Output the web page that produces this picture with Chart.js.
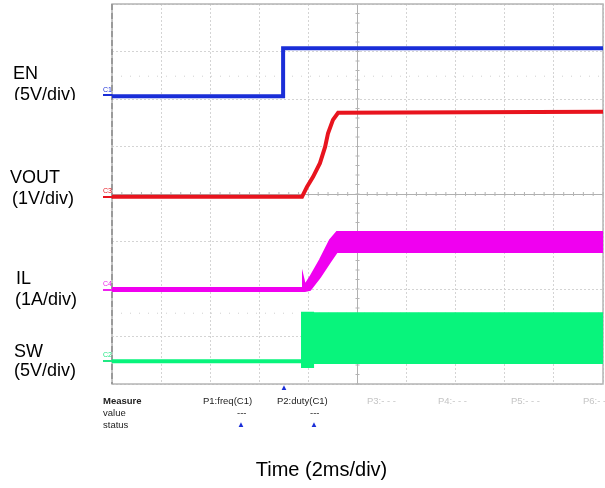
<!DOCTYPE html>
<html>
<head>
<meta charset="utf-8">
<script src="https://cdn.jsdelivr.net/npm/chart.js@4/dist/chart.umd.min.js"></script>
<style>
  body { margin: 0; background: #fff; }
  #wrap { position: relative; width: 605px; height: 488px; overflow: hidden; font-family: "Liberation Sans", Arial, sans-serif; }
  #scope { position: absolute; left: 0; top: 0; }
  .lbl { position: absolute; font-size: 18px; line-height: 18px; color: #000; white-space: nowrap; }
  .ch { position: absolute; font-size: 7px; line-height: 7px; font-family: "Liberation Sans Narrow", "Liberation Sans", Arial, sans-serif; }
  .mk { position: absolute; width: 9px; height: 2px; }
  .ms { position: absolute; font-size: 9.5px; line-height: 10px; font-family: "Liberation Sans Narrow", "Liberation Sans", Arial, sans-serif; color: #222; white-space: nowrap; }
  .gray { color: #c4c4c4; }
  .tri { position: absolute; font-size: 8px; line-height: 8px; color: #1a2ed8; }
</style>
</head>
<body>
<div id="wrap">
  <canvas id="scope" width="605" height="488"></canvas>

  <div style="position:absolute;left:0;top:0;width:110px;height:100px;overflow:hidden;">
    <div class="lbl" style="left:13px;top:64px;">EN</div>
    <div class="lbl" style="left:14px;top:85px;">(5V/div)</div>
  </div>
  <div class="lbl" style="left:10px;top:168px;">VOUT</div>
  <div class="lbl" style="left:12px;top:189px;">(1V/div)</div>
  <div class="lbl" style="left:16px;top:269px;">IL</div>
  <div class="lbl" style="left:15px;top:290px;">(1A/div)</div>
  <div class="lbl" style="left:14px;top:342px;">SW</div>
  <div class="lbl" style="left:14px;top:361px;">(5V/div)</div>

  <div class="ch" style="left:103px;top:86px;color:#1a2ed8;">C1</div>
  <div class="mk" style="left:103px;top:94px;background:#1a2ed8;"></div>
  <div class="ch" style="left:103px;top:187px;color:#e8141e;">C3</div>
  <div class="mk" style="left:103px;top:196px;background:#e8141e;"></div>
  <div class="ch" style="left:103px;top:280px;color:#ee22ee;">C4</div>
  <div class="mk" style="left:103px;top:289px;background:#ee22ee;"></div>
  <div class="ch" style="left:103px;top:351px;color:#22e884;">C2</div>
  <div class="mk" style="left:103px;top:360px;background:#22e884;"></div>

  <div class="tri" style="left:280px;top:384px;">&#9650;</div>
  <div class="ms" style="left:103px;top:396px;font-weight:bold;">Measure</div>
  <div class="ms" style="left:203px;top:396px;">P1:freq(C1)</div>
  <div class="ms" style="left:277px;top:396px;">P2:duty(C1)</div>
  <div class="ms gray" style="left:367px;top:396px;">P3:- - -</div>
  <div class="ms gray" style="left:438px;top:396px;">P4:- - -</div>
  <div class="ms gray" style="left:511px;top:396px;">P5:- - -</div>
  <div class="ms gray" style="left:583px;top:396px;">P6:- - -</div>
  <div class="ms" style="left:103px;top:408px;">value</div>
  <div class="ms" style="left:237px;top:408px;">---</div>
  <div class="ms" style="left:310px;top:408px;">---</div>
  <div class="ms" style="left:103px;top:420px;">status</div>
  <div class="tri" style="left:237px;top:421px;">&#9650;</div>
  <div class="tri" style="left:310px;top:421px;">&#9650;</div>

  <div class="lbl" style="left:0;width:643px;text-align:center;top:459px;font-size:20px;line-height:20px;">Time (2ms/div)</div>
</div>

<script>
// time in ms (10 div x 2ms), levels in divisions from the bottom of the screen (8 div)
const enTime = [0, 6.97, 6.97, 20];
const enLevel = [6.06, 6.06, 7.07, 7.07];

const voutTime = [0, 7.74, 7.94, 8.19, 8.47, 8.68, 8.80, 9.00, 9.21, 20];
const voutLevel = [3.94, 3.94, 4.15, 4.36, 4.65, 4.99, 5.28, 5.56, 5.71, 5.73];

const ilTime = [0, 7.74, 7.78, 7.86, 8.07, 8.47, 8.88, 9.16, 20];
const ilLow = [1.96, 1.96, 1.96, 1.96, 1.98, 2.25, 2.57, 2.78, 2.78];
const ilHigh = [2.02, 2.02, 2.25, 2.08, 2.25, 2.61, 3.03, 3.20, 3.20];

const swTime = [0, 7.74, 7.74, 8.19, 8.19, 20];
const swLow = [0.46, 0.46, 0.36, 0.36, 0.44, 0.44];
const swHigh = [0.50, 0.50, 1.50, 1.50, 1.49, 1.49];

const blue = "#1a2ed8";
const red = "#e8141e";
const magenta = "#f000f0";
const green = "#08f47c";

function pts(xs, ys) {
    return xs.map((x, i) => ({ x: x, y: ys[i] }));
}

// crosshair with minor ticks and the screen frame
const scopeFrame = {
    id: "scopeFrame",
    beforeDatasetsDraw(chart) {
        const { ctx, chartArea: a, scales: { x, y } } = chart;
        const cx = x.getPixelForValue(10);
        const cy = y.getPixelForValue(4);
        ctx.save();
        ctx.strokeStyle = "#b4b4b4";
        ctx.lineWidth = 1;
        ctx.beginPath();
        for (let v = 0; v <= 8; v += 0.2) {
            const py = y.getPixelForValue(v);
            ctx.moveTo(cx - 2, py); ctx.lineTo(cx + 2, py);
        }
        for (let t = 0; t <= 20; t += 0.4) {
            const px = x.getPixelForValue(t);
            ctx.moveTo(px, cy - 2); ctx.lineTo(px, cy + 2);
        }
        ctx.stroke();

        ctx.strokeStyle = "#d0d0d0";
        ctx.setLineDash([1, 8]);
        ctx.beginPath();
        ctx.moveTo(a.left, y.getPixelForValue(6.48)); ctx.lineTo(a.right, y.getPixelForValue(6.48));
        ctx.moveTo(a.left, y.getPixelForValue(1.49)); ctx.lineTo(a.right, y.getPixelForValue(1.49));
        ctx.stroke();

        ctx.setLineDash([]);
        ctx.strokeStyle = "#b4b4b4";
        ctx.lineWidth = 1.5;
        ctx.strokeRect(a.left, a.top, a.right - a.left, a.bottom - a.top);
        ctx.strokeStyle = "#9a9a9a";
        ctx.lineWidth = 2;
        ctx.setLineDash([6, 3]);
        ctx.beginPath();
        ctx.moveTo(a.left, a.top); ctx.lineTo(a.left, a.bottom);
        ctx.stroke();
        ctx.restore();
    }
};

const isCenter = (c) => c.tick && (c.tick.value === 10 || (c.scale.axis === "y" && c.tick.value === 4));
const gridColor = (c) => isCenter(c) ? "#b0b0b0" : "#d4d4d4";
const gridDash = (c) => isCenter(c) ? [] : [2, 2];

new Chart(document.getElementById("scope").getContext("2d"), {
    type: "line",
    data: {
        datasets: [
            { label: "EN", data: pts(enTime, enLevel), borderColor: blue, borderWidth: 4 },
            { label: "VOUT", data: pts(voutTime, voutLevel), borderColor: red, borderWidth: 4 },
            { label: "IL low", data: pts(ilTime, ilLow), borderColor: magenta, borderWidth: 2 },
            { label: "IL high", data: pts(ilTime, ilHigh), borderColor: magenta, borderWidth: 2, fill: "-1", backgroundColor: magenta },
            { label: "SW low", data: pts(swTime, swLow), borderColor: green, borderWidth: 2 },
            { label: "SW high", data: pts(swTime, swHigh), borderColor: green, borderWidth: 2, fill: "-1", backgroundColor: green }
        ]
    },
    options: {
        responsive: false,
        animation: false,
        layout: { padding: { left: 112, top: 4, right: 2, bottom: 104 } },
        elements: { point: { radius: 0 }, line: { tension: 0 } },
        plugins: { legend: { display: false }, tooltip: { enabled: false } },
        scales: {
            x: {
                type: "linear", min: 0, max: 20,
                ticks: { display: false, stepSize: 2 },
                grid: { color: gridColor, drawTicks: false, lineWidth: 1 },
                border: { display: false, dash: gridDash }
            },
            y: {
                type: "linear", min: 0, max: 8,
                ticks: { display: false, stepSize: 1 },
                grid: { color: gridColor, drawTicks: false, lineWidth: 1 },
                border: { display: false, dash: gridDash }
            }
        }
    },
    plugins: [scopeFrame]
});
</script>
</body>
</html>
